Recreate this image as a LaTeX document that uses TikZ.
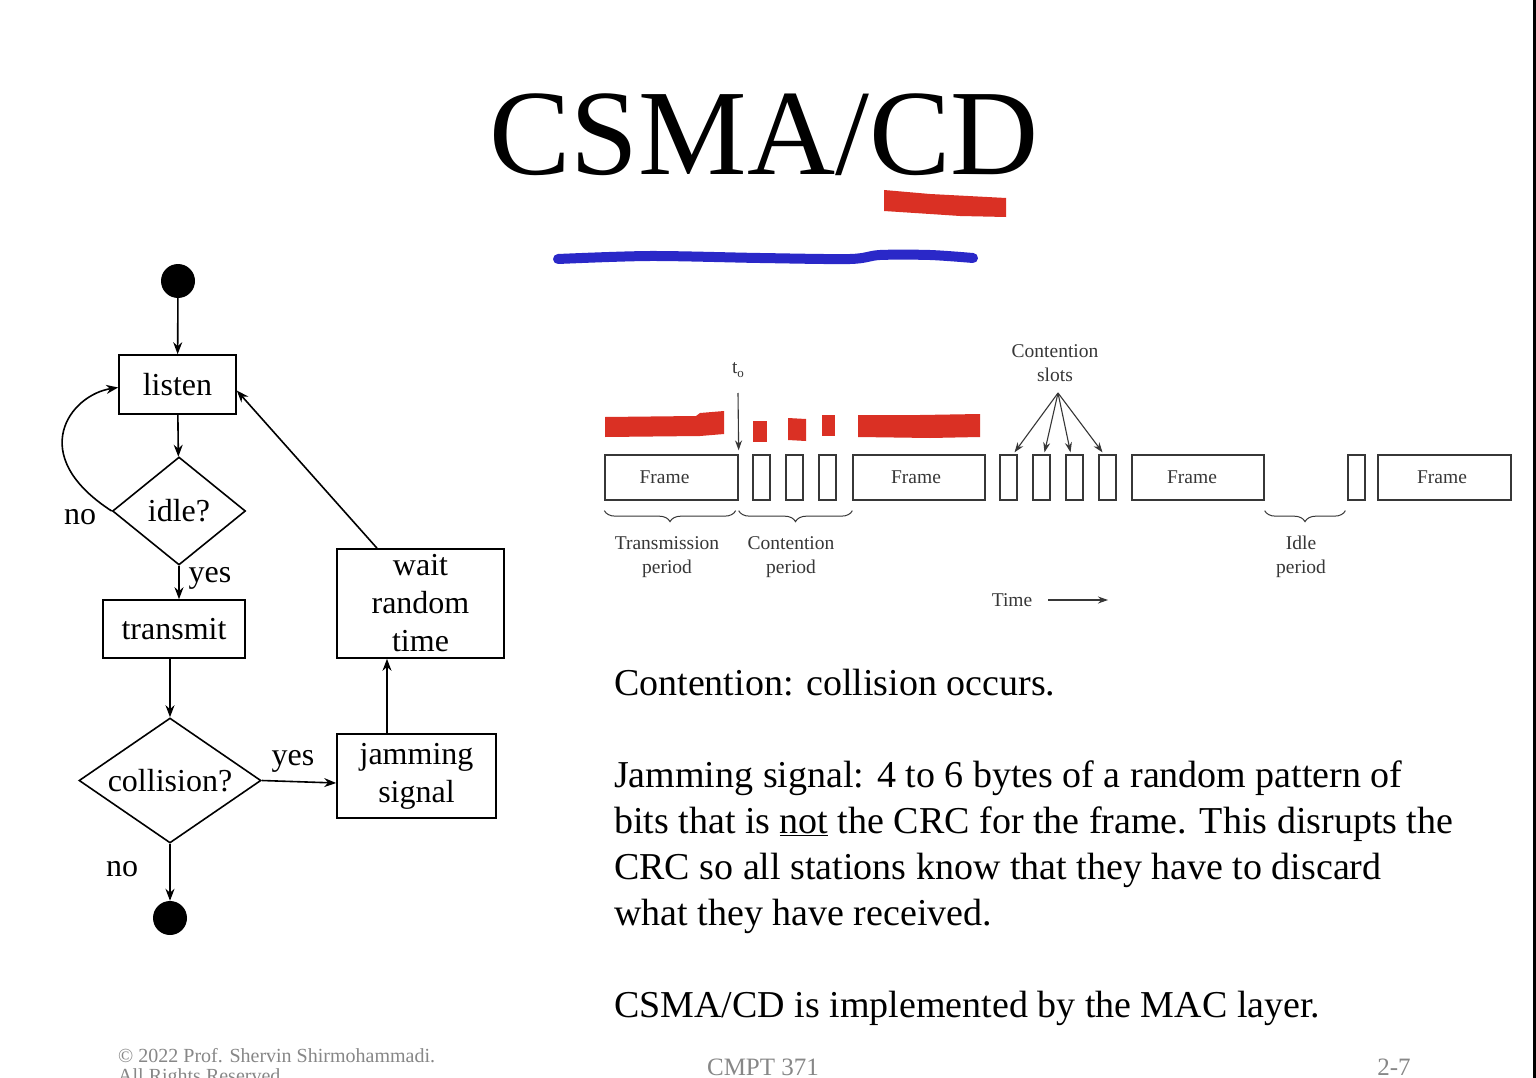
\documentclass[tikz,border=0pt]{standalone}
\usepackage{fontspec}
\setmainfont{Liberation Serif}
\usetikzlibrary{shapes.geometric,arrows.meta,decorations.pathreplacing,calc}
\definecolor{hlred}{RGB}{218,48,36}
\definecolor{penblue}{RGB}{42,40,200}
\definecolor{diagray}{RGB}{55,55,55}
\definecolor{footgray}{RGB}{135,135,135}
\begin{document}
\begin{tikzpicture}[x=1pt,y=-1pt,
  flowbox/.style={draw, line width=1.6pt, inner sep=0pt, align=center,
    font=\fontsize{32}{38}\selectfont},
  decision/.style={draw, diamond, line width=1.6pt, inner sep=0pt,
    font=\fontsize{32}{38}\selectfont},
  enddot/.style={circle, fill=black, minimum size=34pt, inner sep=0pt},
  arr/.style={line width=1.6pt, -{Stealth[length=12pt,width=9pt]}},
  flowlbl/.style={font=\fontsize{32}{38}\selectfont},
  frm/.style={draw=diagray, line width=1.3pt, minimum height=45pt, inner sep=0pt,
    text=diagray, font=\fontsize{19.5}{23}\selectfont},
  tarr/.style={draw=diagray, line width=1.1pt, -{Stealth[length=10pt,width=7pt]}},
  brc/.style={draw=diagray, line width=1pt, decorate,
    decoration={brace, mirror, amplitude=11pt}},
  tlbl/.style={text=diagray, align=center, inner sep=0pt,
    font=\fontsize{19.5}{24}\selectfont},
  body/.style={anchor=base west, inner sep=0pt, font=\fontsize{38}{46}\selectfont},
  foot/.style={text=footgray, inner sep=0pt}
]
\useasboundingbox (0,0) rectangle (1536,1078);
\clip (0,0) rectangle (1536,1078);
\fill[white] (0,0) rectangle (1536,1078);
\fill[black] (1533,0) rectangle (1536,1078);

% ---------- title with pen strokes ----------
\node[anchor=base, inner sep=0pt, font=\fontsize{122}{130}\selectfont] (title) at (764,175) {CSMA/CD};
\fill[hlred] (884,190) -- (930,194) -- (1006,198) -- (1006,217) -- (960,216) -- (930,214) -- (884,211) -- cycle;
\draw[penblue, line width=10pt, line cap=round] plot[smooth] coordinates
  {(558,259) (650,256) (760,258) (850,259) (880,255) (930,255) (973,258)};

% ---------- flowchart ----------
\node[enddot] (start) at (178,281) {};
\node[flowbox, minimum width=117pt, minimum height=59pt] (listen) at (177.5,384.5) {listen};
\node[decision, minimum width=133pt, minimum height=108pt, shape aspect=1.23] (idle) at (179,511) {idle?};
\node[flowbox, minimum width=142pt, minimum height=58pt] (transmit) at (174,629) {transmit};
\node[decision, minimum width=182pt, minimum height=125pt, shape aspect=1.46] (collision) at (170,780.5) {collision?};
\node[flowbox, minimum width=159pt, minimum height=84pt] (jam) at (416.5,776) {jamming\\signal};
\node[flowbox, minimum width=167pt, minimum height=109pt] (wait) at (420.5,603.5) {wait\\random\\time};
\node[enddot] (stop) at (170,918) {};

\draw[arr] (start) -- (listen);
\draw[arr] (listen) -- (idle);
\draw[arr] (idle.west) .. controls (25,455) and (70,395) .. ([yshift=-3pt]listen.west);
\draw[arr] (idle.south) -- (idle.south |- transmit.north);
\draw[arr] (collision.north |- transmit.south) -- (collision.north);
\draw[arr] (collision.east) -- ([yshift=-7pt]jam.west);
\draw[arr] ([xshift=-29.5pt]jam.north) -- ([xshift=-29.5pt]jam.north |- wait.south);
\draw[arr] ([xshift=-43.5pt]wait.north) -- ([yshift=-6pt]listen.east);
\draw[arr] (collision.south) -- (stop.north);

\node[flowlbl] (noA) at (80,517) {no};
\node[flowlbl] (yesA) at (210,578) {yes};
\node[flowlbl] (yesB) at (293,761) {yes};
\node[flowlbl] (noB) at (122,869) {no};

% ---------- channel timing diagram ----------
\fill[hlred] (605,417) -- (696,416) -- (700,413) -- (724,411) -- (724,434) -- (700,436) -- (605,437) -- cycle;
\fill[hlred] (753,421) rectangle (767,442);
\fill[hlred] (788,418) -- (806,419) -- (806,441) -- (788,440) -- cycle;
\fill[hlred] (822,415) rectangle (835,436);
\fill[hlred] (858,415) -- (920,415) -- (980,414) -- (980,437) -- (930,438) -- (858,437) -- cycle;

\node[frm, minimum width=133pt] (f1) at (671.5,477.5) {\hspace{-14pt}Frame};
\node[frm, minimum width=17pt] (s1) at (761.5,477.5) {};
\node[frm, minimum width=17pt] (s2) at (794.5,477.5) {};
\node[frm, minimum width=17pt] (s3) at (827.5,477.5) {};
\node[frm, minimum width=132pt] (f2) at (919,477.5) {\hspace{-6pt}Frame};
\node[frm, minimum width=17pt] (s4) at (1008.5,477.5) {};
\node[frm, minimum width=17pt] (s5) at (1041.5,477.5) {};
\node[frm, minimum width=17pt] (s6) at (1074.5,477.5) {};
\node[frm, minimum width=17pt] (s7) at (1107.5,477.5) {};
\node[frm, minimum width=132pt] (f3) at (1198,477.5) {\hspace{-12pt}Frame};
\node[frm, minimum width=17pt] (s8) at (1356.5,477.5) {};
\node[frm, minimum width=133pt] (f4) at (1444.5,477.5) {\hspace{-5pt}Frame};

\node[tlbl] (tzero) at (738,370) {t\raisebox{-4pt}{\fontsize{13}{13}\selectfont o}};
\coordinate (tzarrow) at (738,393);
\draw[tarr] (tzarrow) -- ([yshift=4pt]f1.north east);

\node[tlbl] (cslots) at (1055,363) {Contention\\slots};
\coordinate (csfan) at (1058,393);
\draw[tarr] (csfan) -- ([xshift=6pt,yshift=2pt]s4.north);
\draw[tarr] (csfan) -- ([xshift=3pt,yshift=2pt]s5.north);
\draw[tarr] (csfan) -- ([xshift=-4pt,yshift=2pt]s6.north);
\draw[tarr] (csfan) -- ([xshift=-5pt,yshift=2pt]s7.north);

\draw[brc] ([yshift=-10pt]f1.south west) -- ([xshift=-3pt,yshift=-10pt]f1.south east);
\draw[brc] ([yshift=-10pt]f1.south east) -- ([yshift=-10pt]f2.south west);
\draw[brc] ([yshift=-10pt]f3.south east) -- ([xshift=-2pt,yshift=-10pt]s8.south west);

\node[tlbl] (ltrans) at (667,557) {Transmission\\period};
\node[tlbl] (lcont) at (791,557) {Contention\\period};
\node[tlbl] (lidle) at (1301,557) {Idle\\period};

\node[tlbl] (time) at (1012,600) {Time};
\coordinate (timeend) at (1108,600);
\draw[tarr] ([xshift=16pt]time.east) -- (timeend);

% ---------- explanatory text ----------
\node[body] (t1) at (614,695) {Contention: collision occurs.};
\node[body] (t2) at (614,787) {Jamming signal: 4 to 6 bytes of a random pattern of};
\node[body] (t3) at (614,833) {bits that is \underline{not} the CRC for the frame. This disrupts the};
\node[body] (t4) at (614,879) {CRC so all stations know that they have to discard};
\node[body] (t5) at (614,925) {what they have received.};
\node[body] (t6) at (614,1017) {CSMA/CD is implemented by the MAC layer.};

% ---------- footer ----------
\node[foot, anchor=base west, font=\fontsize{20}{20}\selectfont] (copy) at (118,1062)
  {© 2022 Prof. Shervin Shirmohammadi.};
\node[foot, anchor=base west, font=\fontsize{20}{20}\selectfont] (rights) at (118,1082)
  {All Rights Reserved.};
\node[foot, anchor=base, font=\fontsize{25}{25}\selectfont] (course) at (763,1075) {CMPT 371};
\node[foot, anchor=base, font=\fontsize{25}{25}\selectfont] (page) at (1394,1075) {2-7};
\end{tikzpicture}
\end{document}
